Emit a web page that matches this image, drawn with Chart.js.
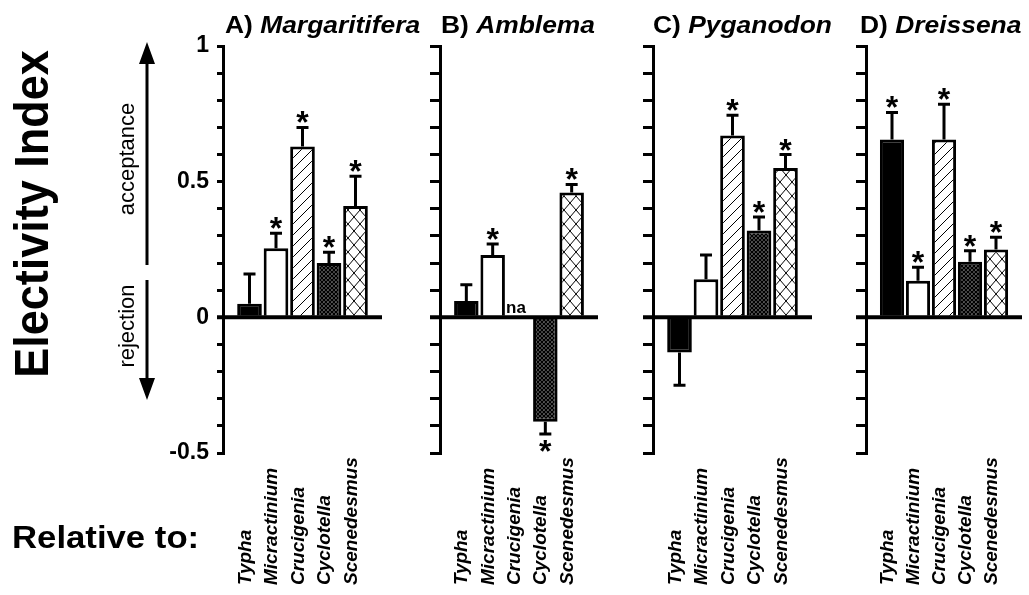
<!DOCTYPE html>
<html>
<head>
<meta charset="utf-8">
<script src="https://cdn.jsdelivr.net/npm/chart.js@4/dist/chart.umd.min.js"></script>
<style>
  body { margin: 0; background: #fff; width: 1029px; height: 595px; overflow: hidden; position: relative; }
  canvas { position: absolute; left: 0; top: 0; }
</style>
</head>
<body>
<canvas id="panelA" width="1029" height="595"></canvas>
<canvas id="panelB" width="1029" height="595"></canvas>
<canvas id="panelC" width="1029" height="595"></canvas>
<canvas id="panelD" width="1029" height="595"></canvas>
<script>
// food types, same order in every panel
const categories = ['Typha', 'Micractinium', 'Crucigenia', 'Cyclotella', 'Scenedesmus'];
const panelLetters = ['A)', 'B)', 'C)', 'D)'];
const panelNames = ['Margaritifera', 'Amblema', 'Pyganodon', 'Dreissena'];
const yTickValues = [1, 0.5, 0, -0.5];
const yTickLabels = ['1', '0.5', '0', '-0.5'];

// mean electivity (null = not available) and one-sided error bar
const meanA = [0.05, 0.255, 0.63, 0.2, 0.41];
const errA = [0.11, 0.055, 0.07, 0.04, 0.11];
const sigA = [false, true, true, true, true];

const meanB = [0.06, 0.23, null, -0.385, 0.46];
const errB = [0.06, 0.04, null, 0.045, 0.03];
const sigB = [false, true, false, true, true];

const meanC = [-0.13, 0.14, 0.67, 0.32, 0.55];
const errC = [0.12, 0.09, 0.075, 0.05, 0.05];
const sigC = [false, false, true, true, true];

const meanD = [0.655, 0.135, 0.655, 0.205, 0.25];
const errD = [0.1, 0.05, 0.13, 0.04, 0.045];
const sigD = [true, true, true, true, true];

const FONT = '"Liberation Sans", Arial, Helvetica, sans-serif';

// fill patterns for the bars
function makePattern(kind) {
    const c = document.createElement('canvas');
    let w = 11, h = 11;
    if (kind === 'dense') { w = 4; h = 4; }
    if (kind === 'cross') { w = 12; h = 14; }
    c.width = w; c.height = h;
    const g = c.getContext('2d');
    g.fillStyle = '#fff';
    g.fillRect(0, 0, w, h);
    g.strokeStyle = '#000';
    g.lineWidth = kind === 'dense' ? 1.8 : 1;
    g.beginPath();
    g.moveTo(0, h); g.lineTo(w, 0);
    g.moveTo(-1, 1); g.lineTo(1, -1);
    g.moveTo(w - 1, h + 1); g.lineTo(w + 1, h - 1);
    if (kind !== 'diag') {
        g.moveTo(0, 0); g.lineTo(w, h);
        g.moveTo(-1, h - 1); g.lineTo(1, h + 1);
        g.moveTo(w - 1, -1); g.lineTo(w + 1, 1);
    }
    g.stroke();
    return g.createPattern(c, 'repeat');
}

// text stretched a little sideways, like the scanned original
function wideText(ctx, text, x, y, sx) {
    ctx.save();
    ctx.translate(x, y);
    ctx.scale(sx, 1);
    ctx.fillText(text, 0, 0);
    ctx.restore();
    return ctx.measureText(text).width * sx;
}

function drawLeftLabels(ctx) {
    ctx.fillStyle = '#000';
    ctx.strokeStyle = '#000';

    ctx.save();
    ctx.translate(48, 214);
    ctx.rotate(-Math.PI / 2);
    ctx.scale(1, 1.08);
    ctx.textAlign = 'center';
    ctx.font = 'bold 45px ' + FONT;
    ctx.fillText('Electivity Index', 0, 0);
    ctx.restore();

    ctx.font = '22px ' + FONT;
    ctx.textAlign = 'center';
    [['acceptance', 159], ['rejection', 326]].forEach(([t, cy]) => {
        ctx.save();
        ctx.translate(134, cy);
        ctx.rotate(-Math.PI / 2);
        ctx.fillText(t, 0, 0);
        ctx.restore();
    });

    // arrows
    ctx.lineWidth = 3;
    ctx.beginPath();
    ctx.moveTo(147, 265); ctx.lineTo(147, 60);
    ctx.moveTo(147, 280); ctx.lineTo(147, 382);
    ctx.stroke();
    ctx.beginPath();
    ctx.moveTo(147, 42); ctx.lineTo(139, 64); ctx.lineTo(155, 64); ctx.closePath();
    ctx.moveTo(147, 400); ctx.lineTo(139, 378); ctx.lineTo(155, 378); ctx.closePath();
    ctx.fill();

    ctx.textAlign = 'left';
    ctx.font = 'bold 31px ' + FONT;
    wideText(ctx, 'Relative to:', 12, 548, 1.12);
}

function makeDecor(p, means, errs, sig) {
    return {
        id: 'decor',
        afterDatasetsDraw(chart) {
            const { ctx, chartArea: a, scales: { y } } = chart;
            const y0 = y.getPixelForValue(0);
            const meta = chart.getDatasetMeta(0);
            ctx.save();
            ctx.strokeStyle = '#000';
            ctx.fillStyle = '#000';
            ctx.lineWidth = 4;
            ctx.beginPath();
            ctx.moveTo(a.left - p.tick, y0);
            ctx.lineTo(a.right, y0);
            ctx.stroke();

            ctx.lineWidth = 3;
            ctx.textAlign = 'center';
            means.forEach((m, i) => {
                const bx = meta.data[i + 1].x;
                if (m === null) {
                    ctx.font = 'bold 17px ' + FONT;
                    ctx.fillText('na', bx - 3, y0 - 4);
                    return;
                }
                const dir = m >= 0 ? 1 : -1;
                const yb = y.getPixelForValue(m);
                const ye = y.getPixelForValue(m + dir * errs[i]);
                ctx.beginPath();
                ctx.moveTo(bx, yb); ctx.lineTo(bx, ye);
                ctx.moveTo(bx - 6, ye); ctx.lineTo(bx + 6, ye);
                ctx.stroke();
                if (sig[i]) {
                    ctx.font = 'bold 32px ' + FONT;
                    ctx.fillText('*', bx, dir > 0 ? ye + 6 : ye + 28);
                }
            });
            ctx.restore();
        },
        afterDraw(chart) {
            const { ctx, scales: { x } } = chart;
            ctx.save();
            ctx.fillStyle = '#000';
            // panel title
            ctx.textAlign = 'left';
            ctx.font = 'bold 24px ' + FONT;
            const w = wideText(ctx, p.letter + ' ', p.titleX, 33, 1.1);
            ctx.font = 'italic bold 24px ' + FONT;
            wideText(ctx, p.name, p.titleX + w, 33, 1.1);

            // category labels, reading upward
            ctx.font = 'italic bold 19px ' + FONT;
            categories.forEach((c, i) => {
                ctx.save();
                ctx.translate(x.getPixelForValue(i + 1) + 1, 585);
                ctx.rotate(-Math.PI / 2);
                ctx.fillText(c, 0, 0);
                ctx.restore();
            });

            if (p.leftLabels) drawLeftLabels(ctx);
            ctx.restore();
        }
    };
}

function buildPanel(id, p, means, errs, sig) {
    const ctx = document.getElementById(id).getContext('2d');
    const fills = ['#000', '#fff', makePattern('diag'), makePattern('dense'), makePattern('cross')];
    return new Chart(ctx, {
        type: 'bar',
        data: {
            labels: [''].concat(categories, ['']),
            datasets: [{
                data: [null].concat(means, [null]),
                backgroundColor: ['#fff'].concat(fills, ['#fff']),
                borderColor: '#000',
                borderWidth: 3,
                barPercentage: 0.93,
                categoryPercentage: 1
            }]
        },
        options: {
            responsive: false,
            animation: false,
            layout: { padding: { left: 0, right: 1029 - p.right, top: 46, bottom: 142 } },
            plugins: { legend: { display: false }, tooltip: { enabled: false } },
            scales: {
                x: { display: false, offset: false },
                y: {
                    min: -0.5,
                    max: 1,
                    afterFit: s => { s.width = p.axis; },
                    border: { display: true, width: 3, color: '#000' },
                    grid: { drawOnChartArea: false, drawTicks: true, tickLength: p.tick, lineWidth: 3, color: '#000' },
                    ticks: {
                        stepSize: 0.1,
                        autoSkip: false,
                        display: p.showTicks,
                        padding: 8,
                        color: '#000',
                        font: { family: FONT, size: 23, weight: 'bold' },
                        callback: v => {
                            const k = yTickValues.findIndex(t => Math.abs(t - v) < 1e-6);
                            return k < 0 ? '' : yTickLabels[k];
                        }
                    }
                }
            }
        },
        plugins: [makeDecor(p, means, errs, sig)]
    });
}

buildPanel('panelA', { letter: panelLetters[0], name: panelNames[0], axis: 223, right: 382, titleX: 225, tick: 6, showTicks: true, leftLabels: true }, meanA, errA, sigA);
buildPanel('panelB', { letter: panelLetters[1], name: panelNames[1], axis: 440, right: 598, titleX: 441, tick: 10, showTicks: false }, meanB, errB, sigB);
buildPanel('panelC', { letter: panelLetters[2], name: panelNames[2], axis: 653, right: 812, titleX: 653, tick: 10, showTicks: false }, meanC, errC, sigC);
buildPanel('panelD', { letter: panelLetters[3], name: panelNames[3], axis: 866, right: 1022, titleX: 860, tick: 10, showTicks: false }, meanD, errD, sigD);
</script>
</body>
</html>
